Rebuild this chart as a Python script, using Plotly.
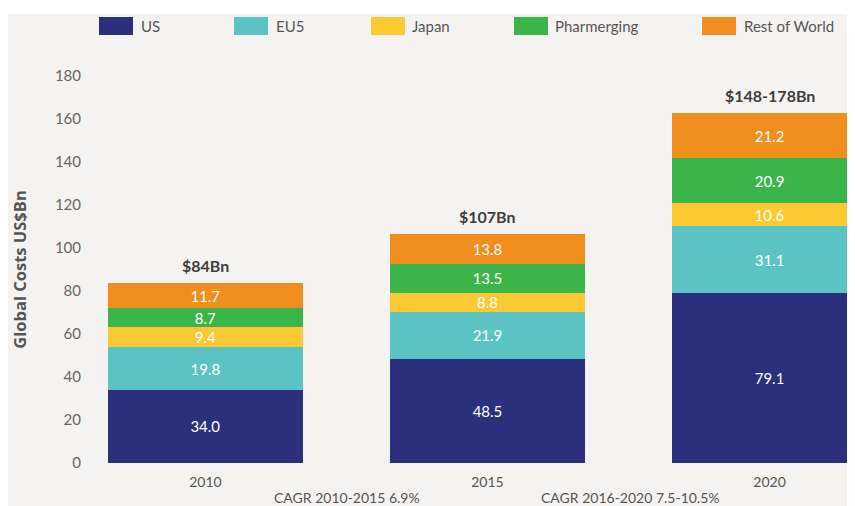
import plotly.graph_objects as go

years = ["2010", "2015", "2020"]
series_names = ["US", "EU5", "Japan", "Pharmerging", "Rest of World"]
us = [34.0, 48.5, 79.1]
eu5 = [19.8, 21.9, 31.1]
japan = [9.4, 8.8, 10.6]
pharmerging = [8.7, 13.5, 20.9]
rest = [11.7, 13.8, 21.2]
totals_text = ["$84Bn", "$107Bn", "$148-178Bn"]
cagr_text = ["CAGR 2010-2015 6.9%", "CAGR 2016-2020 7.5-10.5%"]
y_ticks = [0, 20, 40, 60, 80, 100, 120, 140, 160, 180]

colors = ["#2b307c", "#5bc3c4", "#fcc932", "#3bb54a", "#f08e1e"]
values = [us, eu5, japan, pharmerging, rest]

FONT = "Lato, Roboto, sans-serif"

fig = go.Figure()
for name, vals, col in zip(series_names, values, colors):
    fig.add_trace(go.Bar(
        x=years, y=vals, name=name, marker=dict(color=col, line=dict(width=0)),
        text=[f"{v:.1f}" for v in vals], textposition="inside",
        insidetextanchor="middle", textangle=0,
        textfont=dict(color="white", size=15, family=FONT),
        width=0.69, showlegend=False, hoverinfo="skip",
    ))

stack_totals = [sum(v) for v in zip(*values)]
for i, (tot, lab) in enumerate(zip(stack_totals, totals_text)):
    fig.add_annotation(x=i, y=tot, text=f"<b>{lab}</b>", showarrow=False,
                       xref="x", yref="y", xanchor="center",
                       yanchor="bottom", yshift=6,
                       font=dict(size=16, color="#3d3d3d", family=FONT))

for txt, xp in zip(cagr_text, [0.336, 0.706]):
    fig.add_annotation(xref="paper", yref="paper", x=xp, y=-0.09, text=txt,
                       showarrow=False, xanchor="center", yanchor="middle",
                       font=dict(size=14, color="#555555", family=FONT))

# white strip at top
fig.add_shape(type="rect", xref="paper", yref="paper", x0=-0.2, x1=1.05,
              y0=1.16, y1=1.25, fillcolor="white", line=dict(width=0), layer="below")

# custom legend
leg_swatch_px = [99, 234, 371, 514, 702]
leg_text_px = [139, 274, 410, 553, 742]
L, W = 90, 765
for name, col, sx, tx in zip(series_names, colors, leg_swatch_px, leg_text_px):
    fig.add_shape(type="rect", xref="paper", yref="paper",
                  x0=(sx - L) / W, x1=(sx + 34 - L) / W,
                  y0=1.106, y1=1.1525, fillcolor=col, line=dict(width=0))
    fig.add_annotation(xref="paper", yref="paper", x=(tx - L) / W, y=1.129,
                       text=name, showarrow=False, xanchor="left", yanchor="middle",
                       font=dict(size=15, color="#555555", family=FONT))

fig.update_layout(
    width=847, height=498,
    margin=dict(l=82, r=0, t=68, b=43),
    paper_bgcolor="#f5f3f1", plot_bgcolor="#f5f3f1",
    barmode="stack",
    font=dict(family=FONT, color="#555555"),
    uniformtext=dict(minsize=14, mode="show"),
)
fig.update_xaxes(type="category", range=[-0.409, 2.303], showgrid=False, showline=False,
                 zeroline=False, ticks="", tickfont=dict(size=14, color="#555555"),
                 ticklabelstandoff=9)
fig.update_yaxes(range=[0, 180], tickvals=y_ticks, showgrid=False, zeroline=False,
                 showline=False, ticks="", tickfont=dict(size=15, color="#666666"),
                 ticklabelstandoff=8,
                 title=dict(text="<b>Global Costs US$Bn</b>", standoff=24,
                            font=dict(size=16.5, color="#555555",
                                      family="Open Sans, Lato, sans-serif")))

fig.write_html("out.html")
